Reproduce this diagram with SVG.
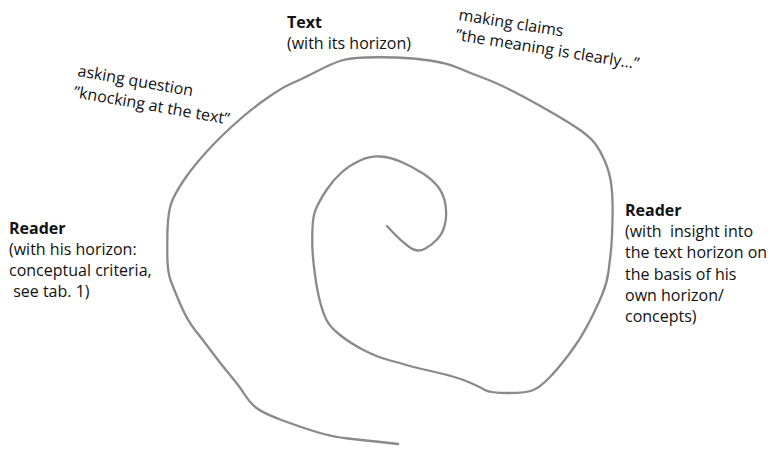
<svg xmlns="http://www.w3.org/2000/svg" width="778" height="449" viewBox="0 0 778 449">
<style>
text{font-family:"Open Sans","Noto Sans","Liberation Sans",sans-serif;font-size:16px;fill:#111;white-space:pre}
.b{font-weight:bold}
.spiral{fill:none;stroke:#8a8a8a;stroke-width:2.3;stroke-linejoin:round;stroke-linecap:round}
</style>
<rect width="778" height="449" fill="#fff"/>
<g id="connectors">
<path class="spiral" d="M387,226 L393.5,233 Q400,240 408.5,246.5 Q417,253 424.5,249 Q432,245 437.5,239 Q443,233 445,224 Q447,215 445.5,205 Q444,195 438.5,187.5 Q433,180 423,173.5 Q413,167 401.5,162 Q390,157 380,156.5 Q370,156 360,160.5 Q350,165 341.5,172.5 Q333,180 326.5,190 Q320,200 316.5,207.5 Q313,215 312.5,227.5 Q312,240 312.5,250 Q313,260 315,275 Q317,290 320,301.5 Q323,313 326.5,320 Q330,327 340,335 Q350,343 363.5,350 Q377,357 388.5,360 Q400,363 406.5,365 Q413,367 435,372 Q457,377 468.5,382 Q480,387 485,390 Q490,393 508.5,393 Q527,393 533.5,390 Q540,387 548.5,378.5 Q557,370 568.5,355 Q580,340 588.5,323.5 Q597,307 602,295 Q607,283 608.5,271.5 Q610,260 611,250 Q612,240 612.5,220 Q613,200 611.5,186.5 Q610,173 605,161.5 Q600,150 595,143.5 Q590,137 580,130 Q570,123 550,111.5 Q530,100 513.5,91.5 Q497,83 483.5,78 Q470,73 458.5,68 Q447,63 430,60.5 Q413,58 396.5,57.5 Q380,57 365,57.5 Q350,58 341.5,60.5 Q333,63 316.5,71.5 Q300,80 291.5,83.5 Q283,87 266.5,98.5 Q250,110 233.5,125 Q217,140 205,153.5 Q193,167 185,178.5 Q177,190 172.5,200 Q168,210 167.5,230 Q167,250 167.5,261.5 Q168,273 170.5,280 Q173,287 180,303.5 Q187,320 195,330 Q203,340 211.5,351.5 Q220,363 230,375 Q240,387 245,395 Q250,403 256.5,408 Q263,413 281.5,420 Q300,427 316.5,432 Q333,437 348,438.5 Q363,440 380.5,442 L398,444"/>
</g>
<g id="text-node">
<text class="b" x="287" y="28">Text</text>
<text x="287" y="49">(with its horizon)</text>
</g>
<g id="asking">
<text transform="translate(77,76) rotate(10)">asking question</text>
<text transform="translate(73,97) rotate(10)">”knocking at the text”</text>
</g>
<g id="claims">
<text transform="translate(458,20) rotate(9)">making claims</text>
<text transform="translate(455,40) rotate(9)">”the meaning is clearly…”</text>
</g>
<g id="reader-left">
<text class="b" x="9" y="234">Reader</text>
<text x="9" y="255">(with his horizon:</text>
<text x="9" y="276">conceptual criteria,</text>
<text x="9" y="297"> see tab. 1)</text>
</g>
<g id="reader-right">
<text class="b" x="625" y="216">Reader</text>
<text x="625" y="237">(with  insight into</text>
<text x="625" y="258">the text horizon on</text>
<text x="625" y="280">the basis of his</text>
<text x="625" y="301">own horizon/</text>
<text x="625" y="322">concepts)</text>
</g>
</svg>
